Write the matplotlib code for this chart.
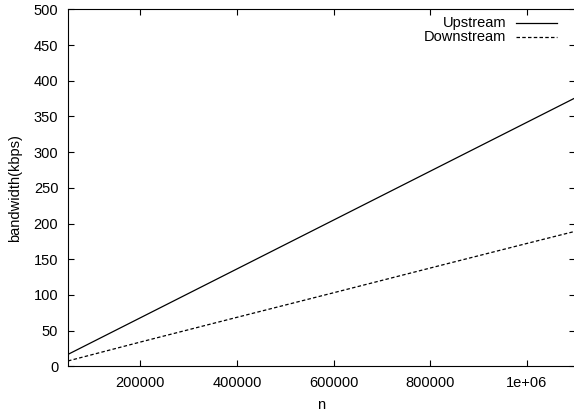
import numpy as np
import matplotlib
matplotlib.use('Agg')
import matplotlib.pyplot as plt

# valores
n = [50000, 200000, 400000, 600000, 800000, 1000000, 1100000]
upstream = [16.7, 68.0, 136.4, 204.8, 273.2, 341.6, 375.8]
downstream = [7.5, 34.0, 68.6, 103.0, 137.6, 172.0, 189.0]

xticks = [200000, 400000, 600000, 800000, 1000000]
xticklabels = ['200000', '400000', '600000', '800000', '1e+06']
yticks = np.arange(0, 501, 50)

plt.rcParams['font.family'] = ['Liberation Sans', 'DejaVu Sans']
plt.rcParams['font.size'] = 10.5

fig = plt.figure(figsize=(5.74, 4.15), dpi=100)
ax = fig.add_axes([68/574, 48.7/415, 507/574, 357/415])

ax.plot(n, upstream, color='black', lw=0.9)
ax.plot(n, downstream, color='black', lw=0.9, dashes=(2.8, 1.8))

ax.set_xlim(50000, 1100000)
ax.set_ylim(0, 500)
ax.set_xticks(xticks)
ax.set_xticklabels(xticklabels)
ax.set_yticks(yticks)
ax.tick_params(direction='in', length=4.5, width=0.8, top=True, right=True, pad=7)
for s in ax.spines.values():
    s.set_linewidth(0.8)

ax.set_xlabel('n', labelpad=6)
ax.set_ylabel('bandwidth(kbps)', labelpad=8)

# clave estilo gnuplot: texto a la derecha, muestra de linea despues
ax.text(0.865, 0.9625, 'Upstream', transform=ax.transAxes, ha='right', va='center')
ax.text(0.865, 0.923, 'Downstream', transform=ax.transAxes, ha='right', va='center')
ax.plot([0.8846, 0.9637], [0.9625, 0.9625], transform=ax.transAxes, color='black', lw=0.9)
ax.plot([0.8846, 0.9637], [0.923, 0.923], transform=ax.transAxes, color='black', lw=0.9, dashes=(2.8, 1.8))

fig.savefig('out.png', dpi=100)
